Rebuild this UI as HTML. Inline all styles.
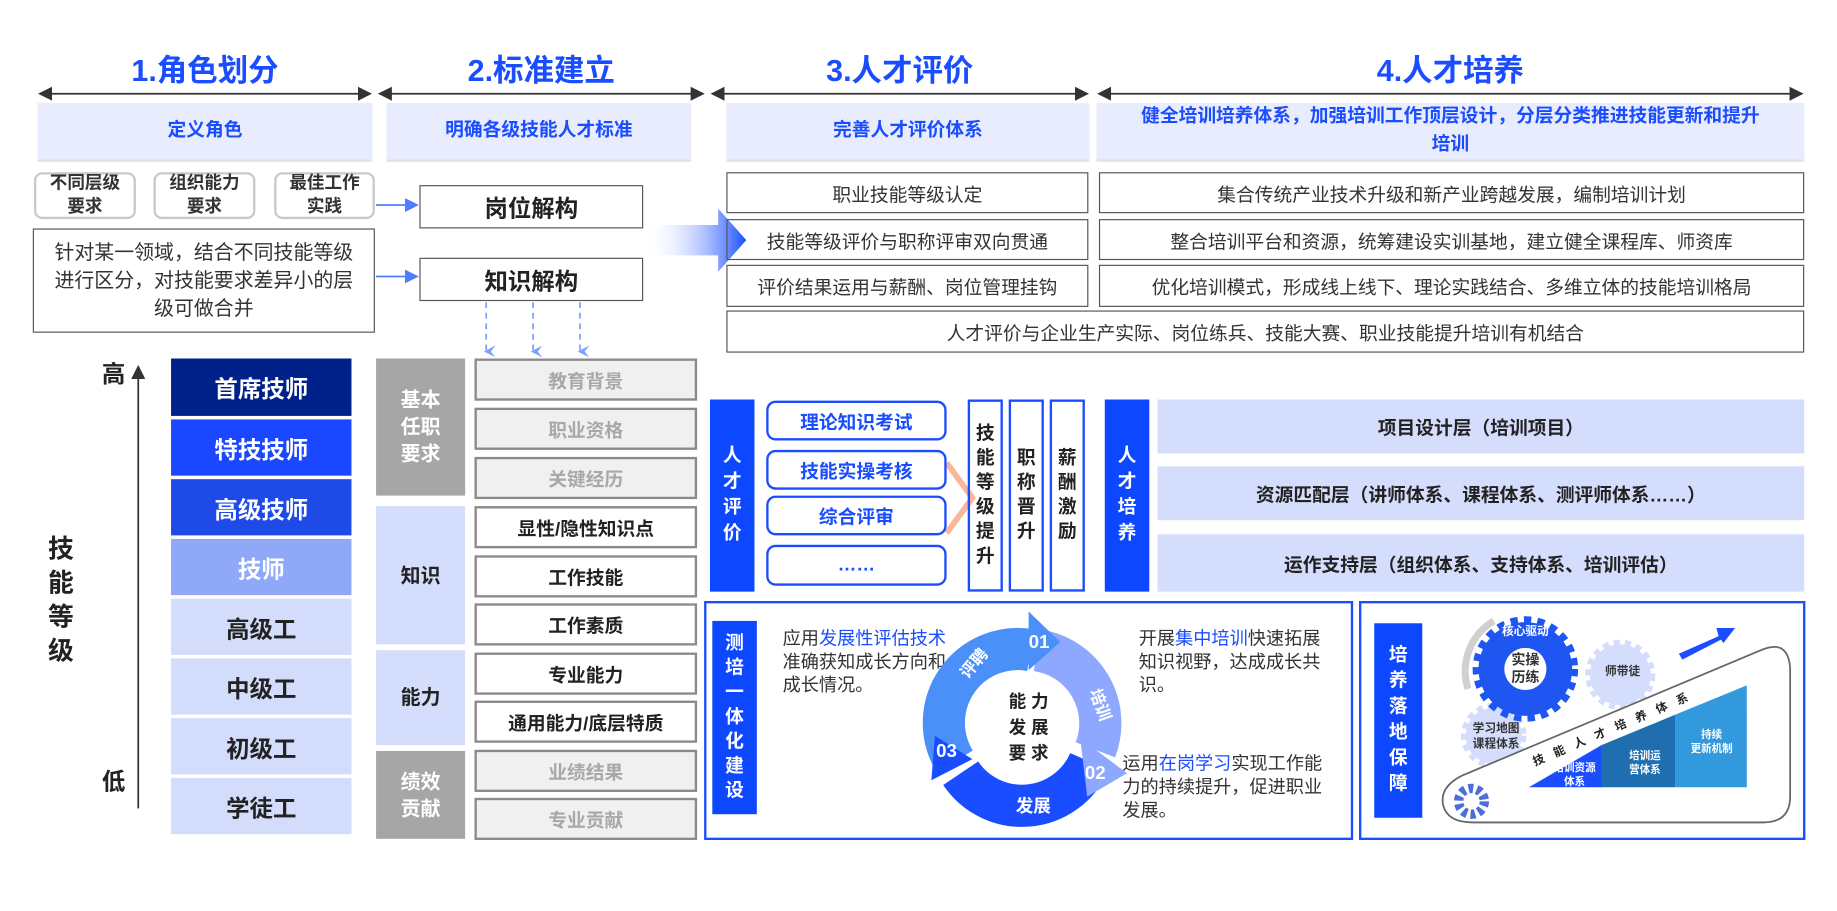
<!DOCTYPE html>
<html><head><meta charset="utf-8"><style>
html,body{margin:0;padding:0;background:#fff;width:1837px;height:911px;overflow:hidden}
#w{position:absolute;left:0;top:0;width:1568px;height:778px;transform:scale(1.17156);transform-origin:0 0;font-family:"Liberation Sans","Noto Sans CJK SC",sans-serif;color:#222}
.a{position:absolute;box-sizing:border-box;display:flex;align-items:center;justify-content:center;text-align:center}
.t{font-size:26px;font-weight:bold;color:#1a4dff}
.h{background:#e8ecfc;color:#1a4dff;font-weight:bold;font-size:16px;line-height:24px;border-bottom:2px solid #e0e2ea}
.rb{border:2px solid #c9c9c9;border-radius:7px;font-size:15px;font-weight:bold;line-height:20px;color:#333}
.bx{border:1px solid #555;font-size:16px;color:#333}
.lv{font-size:20px;font-weight:bold;color:#222}
.it{border:2px solid #8a8a8a;font-size:16px;font-weight:bold}
.g{background:#f0f0f0;color:#a8a8a8}
.k{background:#fff;color:#222}
.cat{font-size:17px;font-weight:bold;line-height:23px}
.bc{background:#0d47ff;color:#fff;font-weight:bold;font-size:16px;line-height:22px}
.ob{border:2px solid #1a4dff;border-radius:8px;color:#1a4dff;font-weight:bold;font-size:16px}
.vb{border:2px solid #1a4dff;font-weight:bold;font-size:16px;line-height:21px}
.lb{background:#d4ddfc;font-weight:bold;font-size:16px}
</style></head><body><div id="w">

<div class="a t" style="left:32px;top:40px;width:286px;height:36px">1.角色划分</div>
<div class="a t" style="left:322px;top:40px;width:280px;height:36px">2.标准建立</div>
<div class="a t" style="left:606px;top:40px;width:324px;height:36px">3.人才评价</div>
<div class="a t" style="left:936px;top:40px;width:604px;height:36px">4.人才培养</div>

<svg style="position:absolute;left:0;top:0" width="1568" height="778">
<defs>
<marker id="ar" markerWidth="8" markerHeight="8" refX="7" refY="4" orient="auto"><path d="M0,0L8,4L0,8z" fill="#333"/></marker>
<marker id="ar2" markerWidth="8" markerHeight="8" refX="1" refY="4" orient="auto"><path d="M8,0L0,4L8,8z" fill="#333"/></marker>
<marker id="bl" markerWidth="8" markerHeight="8" refX="7" refY="4" orient="auto"><path d="M0,0L8,4L0,8z" fill="#4f7dff"/></marker>
<marker id="db" markerWidth="10" markerHeight="10" refX="5" refY="8" orient="auto" markerUnits="userSpaceOnUse"><path d="M0,0L5,10L10,0L5,4z" fill="#7fa0ff"/></marker>
<linearGradient id="gr" x1="0" x2="1"><stop offset="0" stop-color="#fff" stop-opacity="0"/><stop offset="1" stop-color="#1a4dff"/></linearGradient>
</defs>
<line x1="34" y1="80" x2="316" y2="80" stroke="#333" stroke-width="1.5" marker-end="url(#ar)" marker-start="url(#ar2)"/>
<line x1="324" y1="80" x2="600" y2="80" stroke="#333" stroke-width="1.5" marker-end="url(#ar)" marker-start="url(#ar2)"/>
<line x1="608" y1="80" x2="928" y2="80" stroke="#333" stroke-width="1.5" marker-end="url(#ar)" marker-start="url(#ar2)"/>
<line x1="938" y1="80" x2="1538" y2="80" stroke="#333" stroke-width="1.5" marker-end="url(#ar)" marker-start="url(#ar2)"/>
<line x1="321" y1="175" x2="356" y2="175" stroke="#4f7dff" stroke-width="1.5" marker-end="url(#bl)"/>
<line x1="321" y1="236" x2="356" y2="236" stroke="#4f7dff" stroke-width="1.5" marker-end="url(#bl)"/>
<g stroke="#7fa0ff" stroke-width="1.5" stroke-dasharray="5,4">
<line x1="415" y1="258" x2="415" y2="300" marker-end="url(#db)"/>
<line x1="455" y1="258" x2="455" y2="300" marker-end="url(#db)"/>
<line x1="495" y1="258" x2="495" y2="300" marker-end="url(#db)"/>
</g>
<path d="M550,192 L613,192 L613,178 L637,205 L613,232 L613,218 L550,218 Z" fill="url(#gr)"/>
<line x1="118" y1="690" x2="118" y2="313" stroke="#333" stroke-width="1.5" marker-end="url(#ar)"/>
<polyline points="808,395 830,425 808,455" fill="none" stroke="#f9b79a" stroke-width="5"/>
</svg>

<div class="a h" style="left:32px;top:88px;width:286px;height:50px">定义角色</div>
<div class="a h" style="left:330px;top:88px;width:260px;height:50px">明确各级技能人才标准</div>
<div class="a h" style="left:620px;top:88px;width:310px;height:50px">完善人才评价体系</div>
<div class="a h" style="left:936px;top:88px;width:604px;height:50px;padding:0 36px">健全培训培养体系，加强培训工作顶层设计，分层分类推进技能更新和提升培训</div>

<div class="a rb" style="left:29px;top:147px;width:87px;height:40px">不同层级<br>要求</div>
<div class="a rb" style="left:131px;top:147px;width:87px;height:40px">组织能力<br>要求</div>
<div class="a rb" style="left:234px;top:147px;width:86px;height:40px">最佳工作<br>实践</div>
<div class="a bx" style="left:28px;top:195px;width:292px;height:89px;line-height:24px;padding:0 10px;font-size:17px">针对某一领域，结合不同技能等级进行区分，对技能要求差异小的层级可做合并</div>

<div class="a bx" style="left:358px;top:158px;width:191px;height:37px;font-size:20px;font-weight:bold;color:#222">岗位解构</div>
<div class="a bx" style="left:358px;top:220px;width:191px;height:37px;font-size:20px;font-weight:bold;color:#222">知识解构</div>

<div class="a bx" style="left:620px;top:147px;width:309px;height:35px">职业技能等级认定</div>
<div class="a bx" style="left:620px;top:187px;width:309px;height:35px">技能等级评价与职称评审双向贯通</div>
<div class="a bx" style="left:620px;top:226px;width:309px;height:36px">评价结果运用与薪酬、岗位管理挂钩</div>
<div class="a bx" style="left:938px;top:147px;width:602px;height:35px">集合传统产业技术升级和新产业跨越发展，编制培训计划</div>
<div class="a bx" style="left:938px;top:187px;width:602px;height:35px">整合培训平台和资源，统筹建设实训基地，建立健全课程库、师资库</div>
<div class="a bx" style="left:938px;top:226px;width:602px;height:36px">优化培训模式，形成线上线下、理论实践结合、多维立体的技能培训格局</div>
<div class="a bx" style="left:620px;top:265px;width:920px;height:36px">人才评价与企业生产实际、岗位练兵、技能大赛、职业技能提升培训有机结合</div>

<div class="a" style="left:86px;top:304px;width:22px;height:26px;font-size:20px;font-weight:bold">高</div>
<div class="a" style="left:86px;top:652px;width:22px;height:26px;font-size:20px;font-weight:bold">低</div>
<div class="a" style="left:38px;top:452px;width:28px;height:120px;font-size:22px;font-weight:bold;line-height:29px">技<br>能<br>等<br>级</div>

<div class="a lv" style="left:146px;top:306px;width:154px;height:49px;background:#00208a;color:#fff">首席技师</div>
<div class="a lv" style="left:146px;top:358px;width:154px;height:48px;background:#1a47ff;color:#fff">特技技师</div>
<div class="a lv" style="left:146px;top:409px;width:154px;height:48px;background:#1e4ae8;color:#fff">高级技师</div>
<div class="a lv" style="left:146px;top:460px;width:154px;height:48px;background:#8fa9f8;color:#fff">技师</div>
<div class="a lv" style="left:146px;top:511px;width:154px;height:48px;background:#d4dcfb">高级工</div>
<div class="a lv" style="left:146px;top:562px;width:154px;height:48px;background:#d4dcfb">中级工</div>
<div class="a lv" style="left:146px;top:613px;width:154px;height:48px;background:#d4dcfb">初级工</div>
<div class="a lv" style="left:146px;top:664px;width:154px;height:48px;background:#d4dcfb">学徒工</div>

<div class="a cat" style="left:321px;top:306px;width:76px;height:117px;background:#a6a6a6;color:#fff">基本<br>任职<br>要求</div>
<div class="a cat" style="left:321px;top:432px;width:76px;height:118px;background:#d4ddfc">知识</div>
<div class="a cat" style="left:321px;top:555px;width:76px;height:81px;background:#d4ddfc">能力</div>
<div class="a cat" style="left:321px;top:641px;width:76px;height:75px;background:#a6a6a6;color:#fff">绩效<br>贡献</div>

<div class="a it g" style="left:405px;top:306px;width:190px;height:36px">教育背景</div>
<div class="a it g" style="left:405px;top:348px;width:190px;height:36px">职业资格</div>
<div class="a it g" style="left:405px;top:390px;width:190px;height:36px">关键经历</div>
<div class="a it k" style="left:405px;top:432px;width:190px;height:36px">显性/隐性知识点</div>
<div class="a it k" style="left:405px;top:474px;width:190px;height:36px">工作技能</div>
<div class="a it k" style="left:405px;top:515px;width:190px;height:36px">工作素质</div>
<div class="a it k" style="left:405px;top:557px;width:190px;height:36px">专业能力</div>
<div class="a it k" style="left:405px;top:598px;width:190px;height:36px">通用能力/底层特质</div>
<div class="a it g" style="left:405px;top:640px;width:190px;height:36px">业绩结果</div>
<div class="a it g" style="left:405px;top:681px;width:190px;height:36px">专业贡献</div>

<div class="a bc" style="left:606px;top:341px;width:38px;height:164px">人<br>才<br>评<br>价</div>
<div class="a ob" style="left:654px;top:342px;width:154px;height:34px">理论知识考试</div>
<div class="a ob" style="left:654px;top:384px;width:154px;height:34px">技能实操考核</div>
<div class="a ob" style="left:654px;top:423px;width:154px;height:34px">综合评审</div>
<div class="a ob" style="left:654px;top:465px;width:154px;height:35px">……</div>
<div class="a vb" style="left:826px;top:341px;width:30px;height:164px">技<br>能<br>等<br>级<br>提<br>升</div>
<div class="a vb" style="left:861px;top:341px;width:30px;height:164px">职<br>称<br>晋<br>升</div>
<div class="a vb" style="left:896px;top:341px;width:30px;height:164px">薪<br>酬<br>激<br>励</div>

<div class="a bc" style="left:943px;top:341px;width:38px;height:164px">人<br>才<br>培<br>养</div>
<div class="a lb" style="left:988px;top:341px;width:552px;height:46px">项目设计层（培训项目）</div>
<div class="a lb" style="left:988px;top:398px;width:552px;height:46px">资源匹配层（讲师体系、课程体系、测评师体系……）</div>
<div class="a lb" style="left:988px;top:456px;width:552px;height:49px">运作支持层（组织体系、支持体系、培训评估）</div>

<div class="a" style="left:601px;top:513px;width:554px;height:204px;border:2px solid #1a4dff"></div>
<div class="a bc" style="left:608px;top:530px;width:38px;height:165px;font-size:16px;line-height:21px">测<br>培<br>一<br>体<br>化<br>建<br>设</div>
<div style="position:absolute;left:668px;top:536px;width:146px;font-size:15.5px;line-height:20px;color:#333">应用<span style="color:#1a4dff">发展性评估技术</span>准确获知成长方向和成长情况。</div>
<div style="position:absolute;left:972px;top:536px;width:165px;font-size:15.5px;line-height:20px;color:#333">开展<span style="color:#1a4dff">集中培训</span>快速拓展知识视野，达成成长共识。</div>
<div style="position:absolute;left:958px;top:643px;width:178px;font-size:15.5px;line-height:20px;color:#333">运用<span style="color:#1a4dff">在岗学习</span>实现工作能力的持续提升，促进职业发展。</div>

<svg style="position:absolute;left:0;top:0" width="1568" height="778">
<g fill="none" stroke-width="36">
<path d="M815,650 A63,63 0 0 1 880,555" stroke="#4a90f8"/>
<path d="M885,555 A63,63 0 0 1 935,640" stroke="#8ea8ff"/>
<path d="M930,650 A63,63 0 0 1 820,660" stroke="#1a4dff"/>
</g>
<path d="M878,522 L905,548 L878,572 Z" fill="#4a90f8"/>
<path d="M922,630 L962,660 L928,680 Z" fill="#8ea8ff"/>
<path d="M798,628 L830,648 L795,666 Z" fill="#1a4dff"/>
<g font-family="Liberation Sans, Noto Sans CJK SC, sans-serif" font-weight="bold" fill="#fff">
<text x="878" y="553" font-size="16">01</text>
<text x="926" y="665" font-size="16">02</text>
<text x="799" y="646" font-size="16">03</text>
<text x="867" y="693" font-size="15">发展</text>
<text x="0" y="0" font-size="14" transform="translate(826,580) rotate(-50)">评聘</text>
<text x="0" y="0" font-size="14" transform="translate(930,590) rotate(70)">培训</text>
</g>
<g font-family="Liberation Sans, Noto Sans CJK SC, sans-serif" font-weight="bold" fill="#222" font-size="15" text-anchor="middle">
<text x="878" y="604">能 力</text>
<text x="878" y="626">发 展</text>
<text x="878" y="648">要 求</text>
</g>
</svg>

<div class="a" style="left:1160px;top:513px;width:381px;height:204px;border:2px solid #1a4dff"></div>
<div class="a bc" style="left:1173px;top:532px;width:41px;height:166px;font-size:16px;line-height:22px">培<br>养<br>落<br>地<br>保<br>障</div>
<svg style="position:absolute;left:0;top:0" width="1568" height="778">
<path d="M1253,588 A50,50 0 0 1 1275,530" fill="none" stroke="#d0d0d0" stroke-width="6"/>
<circle cx="1383" cy="576" r="26" fill="#d4ddfc" stroke="#d4ddfc" stroke-width="8" stroke-dasharray="5,4"/>
<circle cx="1275" cy="628" r="24" fill="#d4ddfc" stroke="#d4ddfc" stroke-width="8" stroke-dasharray="5,4"/>
<circle cx="1302" cy="571" r="40" fill="#1f55f0" stroke="#1f55f0" stroke-width="10" stroke-dasharray="6,5"/>
<circle cx="1302" cy="571" r="18" fill="#fff"/>
<path d="M1257,702 L1505,702 Q1528,702 1528,680 L1528,570 Q1526,545 1503,555 L1248,662 Q1228,672 1232,688 Q1236,702 1257,702 Z" fill="#fff" stroke="#666" stroke-width="1.5"/>
<circle cx="1256" cy="684" r="11" fill="none" stroke="#4a6fd8" stroke-width="8" stroke-dasharray="4,3"/>
<path d="M1305,672 L1367,672 L1367,636 Z" fill="#1a4dff"/>
<path d="M1367,672 L1430,672 L1430,610 L1367,636 Z" fill="#1f6fb0"/>
<path d="M1430,672 L1491,672 L1491,585 L1430,610 Z" fill="#3399dd"/>
<path d="M1433,558 L1467,543 L1465,536 L1481,536 L1471,549 L1469,546 L1436,563 Z" fill="#1a4dff"/>
<g font-family="Liberation Sans, Noto Sans CJK SC, sans-serif" font-weight="bold" font-size="10" text-anchor="middle">
<text x="1302" y="542" fill="#fff">核心驱动</text>
<text x="1302" y="567" fill="#333" font-size="12">实操</text>
<text x="1302" y="582" fill="#333" font-size="12">历练</text>
<text x="1385" y="576" fill="#333">师带徒</text>
<text x="1277" y="625" fill="#333">学习地图</text>
<text x="1277" y="638" fill="#333">课程体系</text>
<text x="1344" y="658" fill="#fff" font-size="9">培训资源</text>
<text x="1344" y="670" fill="#fff" font-size="9">体系</text>
<text x="1404" y="648" fill="#fff" font-size="9">培训运</text>
<text x="1404" y="660" fill="#fff" font-size="9">营体系</text>
<text x="1461" y="630" fill="#fff" font-size="9">持续</text>
<text x="1461" y="642" fill="#fff" font-size="9">更新机制</text>
<text x="0" y="0" fill="#222" font-size="10" transform="translate(1380,624) rotate(-23)" letter-spacing="9">技能人才培养体系</text>
</g>
</svg>
</div></body></html>
